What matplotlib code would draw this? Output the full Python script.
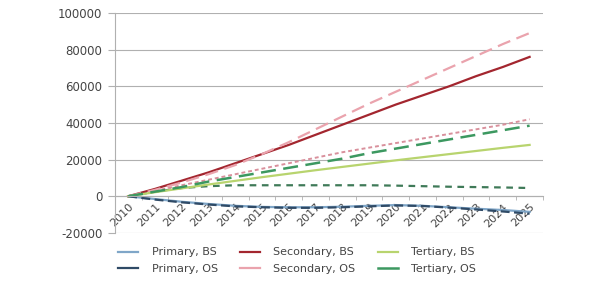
import matplotlib
matplotlib.use("Agg")
import matplotlib.pyplot as plt
import numpy as np

years = [str(y) for y in range(2010, 2026)]

primary_bs = [0, -1500, -3000, -4200, -5200, -5800, -6000, -6000, -5700, -5200, -4800, -5200, -6000, -6800, -7500, -8500]
primary_os = [0, -1800, -3300, -4500, -5500, -6000, -6300, -6300, -6000, -5500, -5000, -5300, -6200, -7200, -8300, -9500]
secondary_bs = [0, 4000, 8500, 13000, 18000, 23000, 28000, 33500, 39000, 44500, 50000, 55000, 60000, 65500, 70500, 76000]
secondary_os = [0, 3500, 7500, 12000, 17000, 23000, 29500, 36500, 43500, 50500, 57000, 63500, 70000, 76500, 83000, 89000]
tertiary_bs = [0, 2200, 4300, 6400, 8400, 10400, 12300, 14200, 16000, 17800, 19600, 21300, 23000, 24700, 26400, 28000]
tertiary_os = [0, 2500, 5000, 8000, 10500, 13000, 15500, 18000, 20500, 23500, 26000, 28500, 31000, 33500, 36000, 38500]
extra_dotted = [0, 3000, 6000, 9000, 12000, 15000, 18000, 21000, 24000, 26500, 29000, 31500, 34000, 36500, 39000, 42000]
extra_flat = [0, 2500, 4500, 5500, 6000, 6000, 6000, 6000, 6000, 6000, 5800, 5500, 5200, 5000, 4800, 4500]

fig = plt.figure(figsize=(6.04, 2.93), dpi=100)
ax = fig.add_axes([0.190, 0.205, 0.709, 0.751])
x = np.arange(len(years))

ax.plot(x, extra_flat, color="#3f7a58", lw=1.6, ls=(0, (3, 2.5)))
ax.plot(x, extra_dotted, color="#d9909c", lw=1.4, ls=(0, (2, 1.5)))
ax.plot(x, primary_bs, color="#7fa6c8", lw=1.6, label="Primary, BS")
ax.plot(x, primary_os, color="#2f4a66", lw=1.6, ls=(0, (4, 2)), label="Primary, OS")
ax.plot(x, secondary_bs, color="#a3262f", lw=1.6, label="Secondary, BS")
ax.plot(x, secondary_os, color="#eaa3ad", lw=1.6, ls=(0, (6, 3)), label="Secondary, OS")
ax.plot(x, tertiary_bs, color="#b8d46e", lw=1.6, label="Tertiary, BS")
ax.plot(x, tertiary_os, color="#3c9860", lw=1.8, ls=(0, (6, 3)), label="Tertiary, OS")

ax.set_xlim(-0.5, len(years) - 0.5)
ax.set_ylim(-20000, 100000)
ax.set_yticks(np.arange(-20000, 100001, 20000))
ax.set_yticklabels([str(v) for v in range(-20000, 100001, 20000)], fontsize=8.5, color="#444444")
ax.grid(axis="y", color="#b0b0b0", lw=0.8)
ax.set_axisbelow(True)

for s in ["top", "right"]:
    ax.spines[s].set_visible(False)
ax.spines["left"].set_color("#b0b0b0")
ax.spines["bottom"].set_position(("data", 0))
ax.spines["bottom"].set_color("#b0b0b0")
ax.tick_params(axis="y", length=5, color="#b0b0b0", pad=4)

ax.set_xticks(x)
ax.set_xticklabels(years, fontsize=8, color="#444444", rotation=45, ha="right", rotation_mode="anchor")
ax.set_xticks(np.arange(-0.5, len(years), 1), minor=True)
ax.tick_params(axis="x", which="major", length=0, pad=4)
ax.tick_params(axis="x", which="minor", length=3, color="#b0b0b0")

handles, labels = ax.get_legend_handles_labels()
leg = fig.legend(handles, labels, ncol=3,
                 loc="center", bbox_to_anchor=(0.492, 0.11), fontsize=8, frameon=False,
                 handlelength=1.8, columnspacing=2.0, labelspacing=0.6,
                 handletextpad=1.2)
for h in leg.get_lines():
    h.set_linestyle("-")
for t in leg.get_texts():
    t.set_color("#444444")

fig.savefig("out.png", dpi=100)
